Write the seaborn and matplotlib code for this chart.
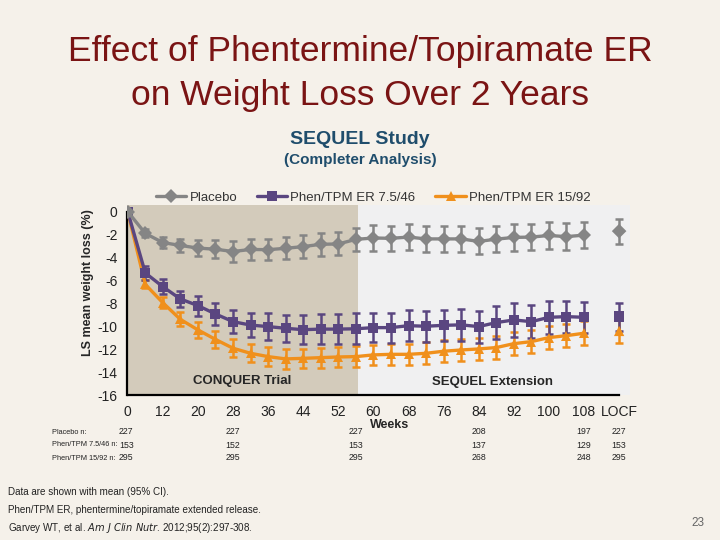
import matplotlib
matplotlib.use("Agg")
import matplotlib.pyplot as plt
import matplotlib.transforms as mtransforms
import numpy as np
import pandas as pd
import seaborn as sns

sns.set_style("white")
plt.rcParams['font.family'] = ['Liberation Sans', 'DejaVu Sans']

# visit weeks (plotted as evenly spaced categories), LOCF sits after a gap
weeks = [0, 4, 12, 16, 20, 24, 28, 32, 36, 40, 44, 48, 52, 56,
         60, 64, 68, 72, 76, 80, 84, 88, 92, 96, 100, 104, 108]
groups = ["Placebo", "Phen/TPM ER 7.5/46", "Phen/TPM ER 15/92"]

placebo = [0, -1.9, -2.7, -2.95, -3.18, -3.28, -3.48, -3.3, -3.32, -3.2, -3.05, -2.85, -2.82, -2.42,
           -2.3, -2.33, -2.22, -2.38, -2.38, -2.38, -2.6, -2.4, -2.25, -2.22, -2.08, -2.18, -2.05]
placebo_ci = [0, 0.35, 0.47, 0.6, 0.72, 0.8, 0.88, 0.9, 0.92, 0.95, 0.97, 1.0, 1.0, 1.02,
              1.1, 1.1, 1.1, 1.12, 1.12, 1.12, 1.13, 1.14, 1.15, 1.15, 1.16, 1.16, 1.16]
mid_dose = [0, -5.35, -6.55, -7.62, -8.2, -8.93, -9.6, -9.9, -10.03, -10.18, -10.3, -10.25, -10.25, -10.22,
            -10.12, -10.12, -9.95, -10.0, -9.92, -9.88, -10.03, -9.68, -9.45, -9.6, -9.22, -9.16, -9.22]
mid_dose_ci = [0, 0.58, 0.65, 0.7, 0.88, 0.93, 0.98, 1.08, 1.15, 1.2, 1.25, 1.3, 1.3, 1.35,
               1.28, 1.3, 1.35, 1.35, 1.38, 1.42, 1.4, 1.45, 1.5, 1.45, 1.45, 1.4, 1.35]
top_dose = [0, -6.35, -7.95, -9.4, -10.32, -11.15, -11.92, -12.36, -12.65, -12.85, -12.8, -12.74, -12.68, -12.65,
            -12.5, -12.45, -12.45, -12.36, -12.18, -12.07, -11.98, -11.86, -11.52, -11.34, -10.99, -10.82, -10.61]
top_dose_ci = [0, 0.35, 0.48, 0.6, 0.68, 0.72, 0.78, 0.8, 0.82, 0.85, 0.85, 0.88, 0.88, 0.9,
               0.9, 0.92, 0.92, 0.95, 0.95, 0.97, 0.98, 1.0, 1.0, 1.0, 1.02, 1.02, 1.03]

locf = [-1.7, -9.16, -10.41]
locf_ci = [1.09, 1.22, 1.05]

tick_weeks = [0, 12, 20, 28, 36, 44, 52, 60, 68, 76, 84, 92, 100, 108]
n_weeks = [0, 28, 56, 84, 108, "LOCF"]
n_rows = ["Placebo n:", "Phen/TPM 7.5/46 n:", "Phen/TPM 15/92 n:"]
n_placebo = [227, 227, 227, 208, 197, 227]
n_mid = [153, 152, 153, 137, 129, 153]
n_top = [295, 295, 295, 268, 248, 295]

colors = {"Placebo": "#858585", "Phen/TPM ER 7.5/46": "#5a4680", "Phen/TPM ER 15/92": "#f0901c"}
markers = {"Placebo": "D", "Phen/TPM ER 7.5/46": "s", "Phen/TPM ER 15/92": "^"}
narrow = ['Liberation Sans Narrow', 'Liberation Sans', 'DejaVu Sans']

pos = np.arange(len(weeks))
locf_pos = len(weeks) + 1

df = pd.DataFrame({
    "pos": np.tile(pos, 3),
    "loss": placebo + mid_dose + top_dose,
    "ci": placebo_ci + mid_dose_ci + top_dose_ci,
    "group": np.repeat(groups, len(weeks)),
})
df_locf = pd.DataFrame({"pos": [locf_pos] * 3, "loss": locf, "ci": locf_ci, "group": groups})

fig = plt.figure(figsize=(7.2, 5.4), dpi=100)
fig.patch.set_facecolor("#f5f1ea")
ax = fig.add_axes([0.1757, 0.2685, 0.6993, 0.3519])
ax.set_facecolor("none")

ax.set_xlim(-0.07, 28.62)
ax.set_ylim(-16, 0.58)
ax.axvspan(-0.07, 13.1, color="#d3cbbb", lw=0, zorder=0)
ax.axvspan(13.1, 28.62, color="#f0f0f1", lw=0, zorder=0)

# error bars first, lines on top
for g in groups[::-1]:
    sub = pd.concat([df[df.group == g], df_locf[df_locf.group == g]])
    ax.errorbar(sub.pos, sub.loss, yerr=sub.ci, fmt="none", ecolor=colors[g],
                elinewidth=1.8, capsize=2.8, capthick=1.8, zorder=2)

sns.lineplot(data=df, x="pos", y="loss", hue="group", style="group", hue_order=groups[::-1],
             palette=colors, markers=markers, dashes=False, lw=2.4, markersize=7,
             markeredgewidth=0, ax=ax, zorder=3, legend=False)
sns.scatterplot(data=df_locf, x="pos", y="loss", hue="group", style="group", palette=colors,
                markers=markers, s=55, linewidth=0, ax=ax, zorder=3, legend=False)

handles = [plt.Line2D([], [], color=colors[g], marker=markers[g], lw=2.4, markersize=7,
                      markeredgewidth=0) for g in groups]
leg = ax.legend(handles, groups, loc="center", bbox_to_anchor=(0.49, 1.04), ncol=3, frameon=False,
                columnspacing=1.5, handlelength=2.3, handletextpad=0.25, fontsize=9.5)
for t in leg.get_texts():
    t.set_color("#333333")

# axes
sns.despine(ax=ax, top=True, right=True)
ax.spines["left"].set_bounds(-16, 0)
ax.spines["bottom"].set_bounds(0, locf_pos)
for s in ["left", "bottom"]:
    ax.spines[s].set_color("black")
    ax.spines[s].set_linewidth(1.6)
ax.set_yticks(np.arange(-16, 1, 2))
ax.set_yticklabels([str(v) for v in np.arange(-16, 1, 2)])
xt = list(pos) + [locf_pos]
xl = [str(w) if w in tick_weeks else "" for w in weeks] + ["LOCF"]
ax.set_xticks(xt)
ax.set_xticklabels(xl)
ax.tick_params(axis="both", direction="out", length=4.5, width=1.5, color="black",
               labelsize=10, labelcolor="#222222", pad=2)
ax.tick_params(axis="x", pad=3)
ax.set_xlabel("")
ax.set_ylabel("")

ax.text(6.5, -14.8, "CONQUER Trial", fontsize=9.5, fontweight="bold", ha="center", va="center")
ax.text(20.8, -14.85, "SEQUEL Extension", fontsize=9.5, fontweight="bold", ha="center", va="center")

fig.text(88 / 720, 1 - 283 / 540, "LS mean weight loss (%)", rotation=90, fontsize=9,
         fontweight="bold", ha="center", va="center")
fig.text(390 / 720, 1 - 425 / 540, "Weeks", fontsize=9, fontweight="bold", ha="center", va="center")

# titles
fig.text(0.5, 1 - 52 / 540, "Effect of Phentermine/Topiramate ER", fontsize=25.5, color="#7a1414",
         ha="center", va="center")
fig.text(0.5, 1 - 95 / 540, "on Weight Loss Over 2 Years", fontsize=25.5, color="#7a1414",
         ha="center", va="center")
fig.text(0.5, 1 - 139 / 540, "SEQUEL Study", fontsize=14, fontweight="bold", color="#1f4d6c",
         ha="center", va="center")
fig.text(0.5, 1 - 160 / 540, "(Completer Analysis)", fontsize=11, fontweight="bold", color="#1f4d6c",
         ha="center", va="center")

# n at risk table
trans = mtransforms.blended_transform_factory(ax.transData, fig.transFigure)
n_pos = [weeks.index(w) if w != "LOCF" else locf_pos for w in n_weeks]
for row, (label, vals) in enumerate(zip(n_rows, [n_placebo, n_mid, n_top])):
    y = 1 - (432 + 13 * row) / 540
    fig.text(52 / 720, y, label, fontsize=5.3, ha="left", va="center", color="#222222", family=narrow)
    for i, (p, v) in enumerate(zip(n_pos, vals)):
        if i == 0:
            ax.text(-0.5, y, str(v), transform=trans, fontsize=6.3, ha="left",
                    va="center", color="#222222", family=narrow)
        else:
            ax.text(p, y, str(v), transform=trans, fontsize=6.3, ha="center",
                    va="center", color="#222222", family=narrow)

fig.text(8 / 720, 1 - 492 / 540, "Data are shown with mean (95% CI).", fontsize=7.1, color="#222222",
         va="center")
fig.text(8 / 720, 1 - 510 / 540, "Phen/TPM ER, phentermine/topiramate extended release.", fontsize=7.1,
         color="#222222", va="center")
fig.text(8 / 720, 1 - 528 / 540, r"Garvey WT, et al. $\it{Am\ J\ Clin\ Nutr}$. 2012;95(2):297-308.",
         fontsize=7.1, color="#222222", va="center")
fig.text(698 / 720, 1 - 523 / 540, "23", fontsize=8.5, color="#666666", ha="center", va="center")

fig.savefig("out.png", dpi=100, facecolor=fig.get_facecolor())
